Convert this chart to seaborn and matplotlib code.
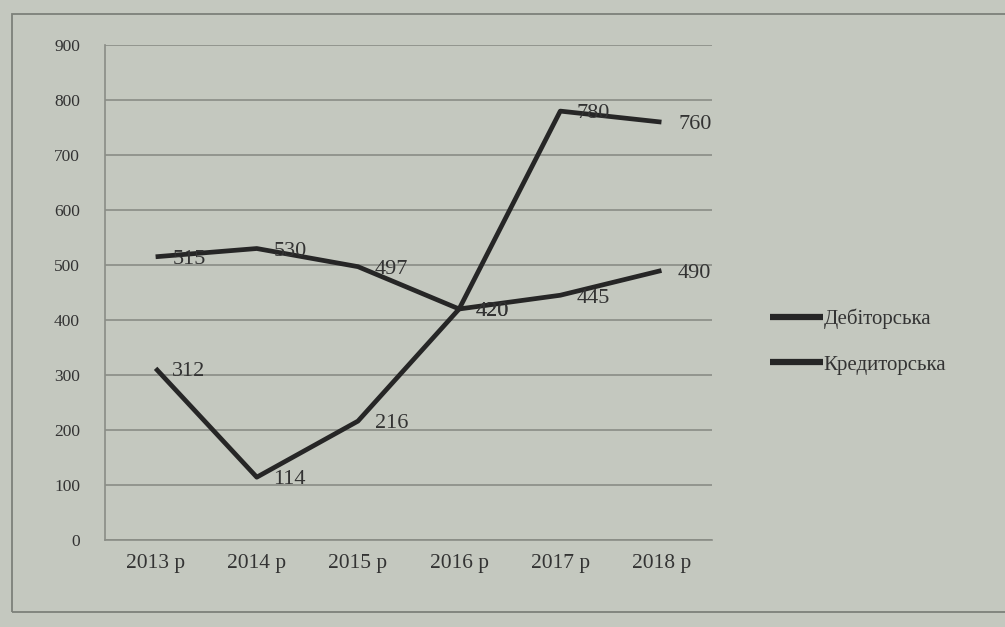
import matplotlib
matplotlib.use("Agg")
import matplotlib.pyplot as plt
import matplotlib.patches as mpatches
import seaborn as sns
import pandas as pd
import numpy as np

years = ["2013 р", "2014 р", "2015 р", "2016 р", "2017 р", "2018 р"]
debit = [515, 530, 497, 420, 445, 490]
credit = [312, 114, 216, 420, 780, 760]
series_names = ["Дебіторська", "Кредиторська"]
y_ticks = list(range(0, 1000, 100))

df = pd.DataFrame({
    "year": years * 2,
    "value": debit + credit,
    "series": [series_names[0]] * len(years) + [series_names[1]] * len(years),
})

sns.set_theme(style="white")
plt.rcParams["font.family"] = ["Liberation Serif", "DejaVu Serif"]

bg = "#c4c8bf"
ink = "#262626"
text_c = "#333333"
grid_c = "#8a8d86"

fig = plt.figure(figsize=(10.05, 6.27), dpi=100, facecolor=bg)
ax = fig.add_axes([0.1045, 0.139, 0.604, 0.789], facecolor=bg)

sns.lineplot(data=df, x="year", y="value", hue="series", sort=False,
             palette=[ink, ink], linewidth=3.4, ax=ax, legend=False)
for line in ax.lines:
    line.set_solid_capstyle("butt")

# data labels to the right of each point
for vals in (debit, credit):
    for i, v in enumerate(vals):
        ax.annotate(str(v), (i, v), xytext=(12, -2), textcoords="offset points",
                    ha="left", va="center", fontsize=16, color=text_c)

ax.set_ylim(0, 900)
ax.set_xlim(-0.5, len(years) - 0.5)
ax.set_yticks(y_ticks)
ax.yaxis.grid(True, color=grid_c, linewidth=1.2)
ax.set_axisbelow(True)

# category ticks between groups, labels centred under points
ax.set_xticks(np.arange(-0.5, len(years), 1.0))
ax.set_xticklabels([])
ax.set_xticks(range(len(years)), minor=True)
ax.set_xticklabels(years, minor=True, fontsize=15.5, color=text_c)
ax.tick_params(axis="x", which="major", direction="out", length=6, color=grid_c, width=1.2)
ax.tick_params(axis="x", which="minor", length=0, pad=10)
ax.tick_params(axis="y", direction="out", length=6, color=grid_c, width=1.2,
               labelsize=12.5, labelcolor=text_c, pad=12)
ax.set_xlabel("")
ax.set_ylabel("")

for s in ("top", "right"):
    ax.spines[s].set_visible(False)
for s in ("left", "bottom"):
    ax.spines[s].set_color(grid_c)
    ax.spines[s].set_linewidth(1.2)

handles = [plt.Line2D([], [], color=ink, linewidth=4.5, solid_capstyle="butt")
           for _ in series_names]
fig.legend(handles, series_names, loc="center left", bbox_to_anchor=(0.748, 0.455),
           frameon=False, fontsize=15, handlelength=2.5, handletextpad=0.05,
           labelspacing=1.25, labelcolor=text_c)

# chart frame
fig.patches.append(mpatches.Rectangle((0.012, 0.024), 1.05, 0.953,
                                      transform=fig.transFigure, fill=False,
                                      edgecolor="#7d807a", linewidth=1.3))

fig.savefig("out.png", dpi=100, facecolor=bg)
